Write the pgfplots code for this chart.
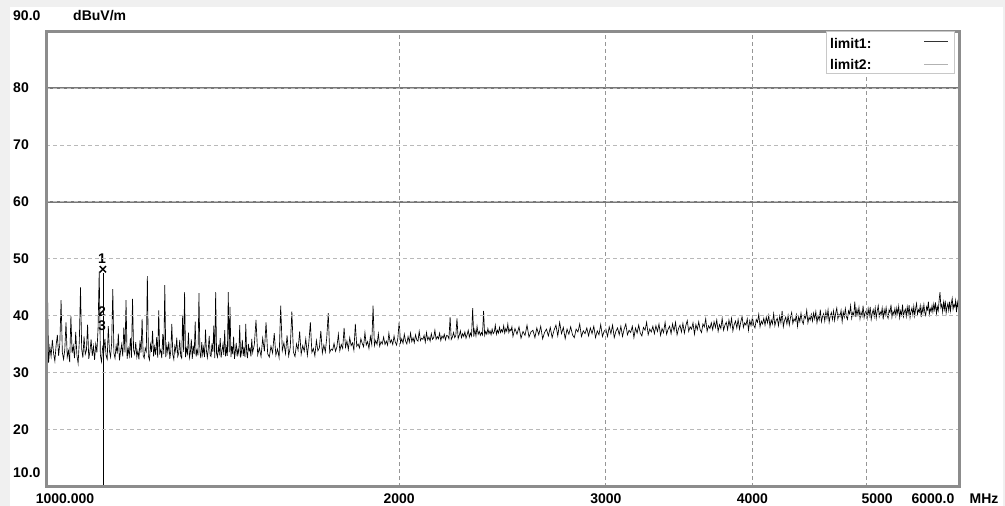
\documentclass[border=0pt]{standalone}
\usepackage{pgfplots}
\pgfplotsset{compat=1.18}
\usepackage{fontspec}
\setmainfont{Liberation Sans}

\definecolor{bggray}{RGB}{240,240,240}
\definecolor{framegray}{RGB}{140,140,140}
\definecolor{gridgray}{RGB}{150,150,150}
\definecolor{hgridgray}{RGB}{185,185,185}
\definecolor{limitgray}{RGB}{120,120,120}
\definecolor{legendgray}{RGB}{200,200,200}

\begin{document}
\begin{tikzpicture}[x=1pt,y=1pt,font=\bfseries\fontsize{14}{16}\selectfont]
% panel background
\fill[bggray] (0,0) rectangle (1005,506);
\fill[white] (10,0) rectangle (1003,499);

\begin{axis}[
  at={(46pt,19pt)}, anchor=south west,
  scale only axis, width=913pt, height=456pt,
  xmode=log, log basis x=10,
  xmin=1000, xmax=6000, ymin=10, ymax=90,
  axis on top,
  axis line style={draw=framegray, line width=3pt},
  major tick length=0pt,
  xtick={2000,3000,4000,5000},
  xticklabels={2000,3000,4000,\hspace*{22pt}5000},
  ytick={20,30,40,50,60,70,80},
  yticklabels={20,30,40,50,60,70,80},
  xticklabel style={anchor=center, yshift=-12pt, inner sep=0pt},
  yticklabel style={anchor=west, xshift=-33pt, inner sep=0pt},
  xmajorgrids, ymajorgrids,
  major x grid style={gridgray, line width=1pt, dash pattern=on 4pt off 3pt},
  major y grid style={hgridgray, line width=1pt, dash pattern=on 4pt off 3pt},
  clip=true,
]
% limit lines
\addplot[limitgray, line width=1.4pt] coordinates {(1000,80) (6000,80)};
\addplot[limitgray, line width=1.4pt] coordinates {(1000,60) (6000,60)};

% measured trace: 2.5 MHz steps to 1500, 5 MHz to 2500, 10 MHz above
\addplot[black, line width=0.65pt] coordinates {
(1000,33.5)(1002.5,46.5)(1005,31.8)(1007.5,34.6)(1010,32.9)(1012.5,35.8)(1015,33.4)(1017.5,32.1)(1020,34.9)(1022.5,36.7)
(1025,33.0)(1027.5,35.2)(1030,42.8)(1032.5,33.6)(1035,32.4)(1037.5,34.1)(1040,38.9)(1042.5,32.8)(1045,33.9)(1047.5,31.9)
(1050,40.0)(1052.5,33.5)(1055,34.8)(1057.5,32.6)(1060,37.2)(1062.5,33.1)(1065,31.7)(1067.5,35.6)(1070,45.0)(1072.5,34.2)
(1075,32.7)(1077.5,36.4)(1080,33.3)(1082.5,34.0)(1085,38.5)(1087.5,32.5)(1090,33.8)(1092.5,35.9)(1095,33.0)(1097.5,34.7)
(1100,32.3)(1102.5,35.1)(1105,33.6)(1107.5,37.8)(1110,47.8)(1112.5,33.2)(1115,32.0)(1117.5,34.5)(1120,33.7)(1122.5,36.0)
(1125,33.1)(1127.5,32.4)(1130,38.2)(1132.5,33.9)(1135,32.8)(1137.5,35.3)(1140,44.7)(1142.5,33.5)(1145,32.6)(1147.5,34.8)
(1150,33.4)(1152.5,36.9)(1155,32.2)(1157.5,33.8)(1160,35.0)(1162.5,32.9)(1165,38.0)(1167.5,33.6)(1170,42.8)(1172.5,32.5)
(1175,34.3)(1177.5,33.0)(1180,36.1)(1182.5,32.7)(1185,43.0)(1187.5,34.0)(1190,33.3)(1192.5,35.4)(1195,32.8)(1197.5,33.9)
(1200,32.4)(1202.5,35.7)(1205,33.6)(1207.5,39.5)(1210,33.1)(1212.5,32.6)(1215,34.4)(1217.5,33.8)(1220,47.0)(1222.5,33.0)
(1225,32.3)(1227.5,35.0)(1230,33.7)(1232.5,37.4)(1235,32.9)(1237.5,34.6)(1240,33.2)(1242.5,36.3)(1245,32.7)(1247.5,41.0)
(1250,33.5)(1252.5,34.1)(1255,32.6)(1257.5,36.8)(1260,33.3)(1262.5,45.4)(1265,32.8)(1267.5,34.9)(1270,33.6)(1272.5,35.5)
(1275,32.5)(1277.5,33.9)(1280,38.6)(1282.5,33.2)(1285,32.4)(1287.5,34.7)(1290,33.8)(1292.5,36.2)(1295,32.9)(1297.5,33.5)
(1300,35.8)(1302.5,33.0)(1305,32.6)(1307.5,40.2)(1310,33.7)(1312.5,44.2)(1315,32.8)(1317.5,34.3)(1320,33.4)(1322.5,37.1)
(1325,32.7)(1327.5,33.6)(1330,35.9)(1332.5,32.5)(1335,34.8)(1337.5,33.3)(1340,39.0)(1342.5,32.9)(1345,34.0)(1347.5,33.1)
(1350,44.0)(1352.5,33.8)(1355,32.6)(1357.5,35.4)(1360,33.2)(1362.5,34.5)(1365,32.8)(1367.5,37.6)(1370,33.9)(1372.5,32.7)
(1375,34.2)(1377.5,36.5)(1380,33.1)(1382.5,32.9)(1385,35.2)(1387.5,33.7)(1390,38.3)(1392.5,32.6)(1395,44.2)(1397.5,33.4)
(1400,32.8)(1402.5,34.6)(1405,33.5)(1407.5,36.1)(1410,32.7)(1412.5,33.9)(1415,35.0)(1417.5,33.2)(1420,37.5)(1422.5,32.9)
(1425,34.4)(1427.5,33.0)(1430,44.2)(1432.5,33.6)(1435,41.6)(1437.5,32.8)(1440,34.7)(1442.5,33.3)(1445,36.4)(1447.5,32.5)
(1450,33.8)(1452.5,35.3)(1455,32.9)(1457.5,34.1)(1460,33.4)(1462.5,38.4)(1465,32.7)(1467.5,33.6)(1470,35.8)(1472.5,33.0)
(1475,34.5)(1477.5,32.8)(1480,38.6)(1482.5,33.7)(1485,32.6)(1487.5,35.1)(1490,33.9)(1492.5,34.3)(1495,32.9)(1497.5,36.0)
(1500,33.6)(1505,35.0)(1510,39.3)(1515,33.2)(1520,34.4)(1525,32.9)(1530,36.1)(1535,33.8)(1540,38.9)(1545,33.4)
(1550,32.8)(1555,34.7)(1560,33.5)(1565,37.0)(1570,33.1)(1575,34.2)(1580,32.7)(1585,41.8)(1590,33.9)(1595,35.3)
(1600,33.4)(1605,36.6)(1610,33.0)(1615,34.5)(1620,40.8)(1625,33.7)(1630,32.9)(1635,35.1)(1640,34.0)(1645,37.3)
(1650,33.3)(1655,34.8)(1660,33.8)(1665,36.0)(1670,33.1)(1675,35.4)(1680,38.9)(1685,33.6)(1690,34.3)(1695,33.0)
(1700,35.7)(1705,33.9)(1710,34.4)(1715,37.4)(1720,33.5)(1725,34.9)(1730,33.7)(1735,36.3)(1740,40.5)(1745,33.6)
(1750,34.2)(1755,34.0)(1760,35.2)(1765,33.8)(1770,34.6)(1775,36.8)(1780,33.9)(1785,35.0)(1790,34.3)(1795,37.9)
(1800,34.5)(1805,35.6)(1810,34.1)(1815,36.2)(1820,34.8)(1825,35.3)(1830,34.0)(1835,38.6)(1840,34.7)(1845,35.1)
(1850,34.4)(1855,36.0)(1860,35.2)(1865,34.6)(1870,37.1)(1875,34.9)(1880,35.5)(1885,34.3)(1890,36.4)(1895,35.0)
(1900,41.8)(1905,34.8)(1910,35.7)(1915,35.0)(1920,36.9)(1925,34.7)(1930,35.5)(1935,35.1)(1940,36.3)(1945,35.0)
(1950,35.6)(1955,34.9)(1960,37.0)(1965,35.3)(1970,35.8)(1975,35.0)(1980,36.5)(1985,35.4)(1990,34.9)(1995,36.1)
(2000,39.0)(2005,35.3)(2010,36.0)(2015,35.2)(2020,36.8)(2025,35.6)(2030,35.1)(2035,36.4)(2040,35.4)(2045,37.0)
(2050,35.5)(2055,36.2)(2060,35.3)(2065,36.7)(2070,35.8)(2075,35.6)(2080,37.3)(2085,35.7)(2090,36.1)(2095,35.9)
(2100,36.6)(2105,35.4)(2110,37.1)(2115,35.8)(2120,36.3)(2125,35.6)(2130,36.9)(2135,35.9)(2140,36.2)(2145,37.5)
(2150,35.9)(2155,36.4)(2160,36.0)(2165,37.0)(2170,35.7)(2175,36.5)(2180,36.1)(2185,36.8)(2190,35.8)(2195,36.6)
(2200,36.5)(2205,36.0)(2210,39.8)(2215,35.9)(2220,36.3)(2225,37.1)(2230,36.2)(2235,36.6)(2240,39.6)(2245,36.0)
(2250,36.6)(2255,37.4)(2260,36.2)(2265,36.9)(2270,36.4)(2275,37.2)(2280,36.1)(2285,36.7)(2290,37.5)(2295,36.3)
(2300,37.0)(2305,36.5)(2310,41.4)(2315,36.4)(2320,37.6)(2325,36.5)(2330,38.2)(2335,36.8)(2340,37.3)(2345,36.6)
(2350,37.1)(2355,36.7)(2360,40.9)(2365,36.6)(2370,37.3)(2375,36.8)(2380,37.8)(2385,36.9)(2390,37.4)(2395,36.7)
(2400,37.7)(2405,36.9)(2410,37.2)(2415,38.4)(2420,36.8)(2425,37.5)(2430,37.0)(2435,38.0)(2440,37.1)(2445,37.6)
(2450,37.2)(2455,38.3)(2460,37.0)(2465,37.8)(2470,37.3)(2475,38.6)(2480,37.1)(2485,37.7)(2490,37.4)(2495,38.1)
(2500,36.4)(2510,37.8)(2520,36.8)(2530,38.1)(2540,36.1)(2550,37.3)(2560,36.6)(2570,38.4)(2580,36.3)(2590,37.2)
(2600,37.5)(2610,36.2)(2620,37.9)(2630,36.7)(2640,38.2)(2650,36.0)(2660,37.1)(2670,37.7)(2680,36.5)(2690,38.0)
(2700,36.2)(2710,37.5)(2720,38.4)(2730,36.5)(2740,38.9)(2750,36.9)(2760,38.0)(2770,36.0)(2780,37.7)(2790,36.8)
(2800,38.1)(2810,36.7)(2820,36.2)(2830,37.7)(2840,37.2)(2850,38.6)(2860,36.4)(2870,37.4)(2880,36.9)(2890,37.9)
(2900,36.5)(2910,37.9)(2920,36.9)(2930,38.2)(2940,36.2)(2950,37.4)(2960,36.7)(2970,38.5)(2980,36.4)(2990,37.3)
(3000,37.7)(3010,36.4)(3020,38.1)(3030,36.9)(3040,38.4)(3050,36.2)(3060,37.3)(3070,37.9)(3080,36.7)(3090,38.2)
(3100,36.4)(3110,37.7)(3120,38.6)(3130,36.7)(3140,37.5)(3150,37.1)(3160,38.2)(3170,36.2)(3180,37.9)(3190,37.0)
(3200,38.4)(3210,37.0)(3220,36.5)(3230,38.0)(3240,37.5)(3250,38.9)(3260,36.7)(3270,37.7)(3280,37.2)(3290,38.2)
(3300,36.9)(3310,38.3)(3320,37.3)(3330,38.6)(3340,36.6)(3350,37.8)(3360,37.1)(3370,38.9)(3380,36.8)(3390,37.7)
(3400,38.2)(3410,36.9)(3420,38.6)(3430,37.4)(3440,38.9)(3450,36.7)(3460,37.8)(3470,38.4)(3480,37.2)(3490,38.7)
(3500,37.0)(3510,38.3)(3520,39.2)(3530,37.3)(3540,38.1)(3550,37.7)(3560,38.8)(3570,36.8)(3580,38.5)(3590,37.6)
(3600,39.0)(3610,37.6)(3620,37.1)(3630,38.6)(3640,38.1)(3650,39.5)(3660,37.3)(3670,38.3)(3680,37.8)(3690,38.8)
(3700,37.6)(3710,39.0)(3720,38.0)(3730,39.3)(3740,37.3)(3750,38.5)(3760,37.8)(3770,39.6)(3780,37.5)(3790,38.4)
(3800,38.9)(3810,37.6)(3820,39.3)(3830,38.1)(3840,39.6)(3850,37.4)(3860,38.5)(3870,39.1)(3880,37.9)(3890,39.4)
(3900,37.7)(3910,39.0)(3920,39.9)(3930,38.0)(3940,38.8)(3950,38.4)(3960,39.5)(3970,37.5)(3980,39.2)(3990,38.3)
(4000,39.8)(4010,38.4)(4020,37.9)(4030,39.4)(4040,38.9)(4050,40.3)(4060,38.1)(4070,39.1)(4080,38.6)(4090,39.6)
(4100,38.4)(4110,39.8)(4120,38.8)(4130,40.1)(4140,38.1)(4150,39.3)(4160,38.6)(4170,40.4)(4180,38.3)(4190,39.2)
(4200,39.6)(4210,38.3)(4220,40.0)(4230,38.8)(4240,40.9)(4250,38.1)(4260,39.2)(4270,39.8)(4280,38.6)(4290,40.1)
(4300,38.4)(4310,39.7)(4320,40.6)(4330,38.7)(4340,39.5)(4350,39.1)(4360,40.2)(4370,38.2)(4380,39.9)(4390,39.0)
(4400,40.5)(4410,39.1)(4420,38.6)(4430,40.1)(4440,39.6)(4450,41.0)(4460,38.8)(4470,39.8)(4480,39.3)(4490,40.3)
(4500,39.1)(4510,40.5)(4520,39.5)(4530,40.8)(4540,38.8)(4550,40.0)(4560,39.3)(4570,41.1)(4580,39.0)(4590,39.9)
(4600,40.4)(4610,39.1)(4620,40.8)(4630,39.6)(4640,41.1)(4650,38.9)(4660,40.0)(4670,40.6)(4680,39.4)(4690,40.9)
(4700,39.2)(4710,40.5)(4720,41.4)(4730,39.5)(4740,40.3)(4750,39.9)(4760,41.0)(4770,39.0)(4780,40.7)(4790,39.8)
(4800,41.3)(4810,39.9)(4820,39.4)(4830,40.9)(4840,40.4)(4850,41.8)(4860,39.6)(4870,40.6)(4880,40.1)(4890,42.5)
(4900,39.8)(4910,41.2)(4920,40.2)(4930,41.5)(4940,39.5)(4950,40.7)(4960,40.0)(4970,41.8)(4980,39.7)(4990,40.6)
(5000,40.9)(5010,39.6)(5020,41.3)(5030,40.1)(5040,41.6)(5050,39.4)(5060,40.5)(5070,41.1)(5080,39.9)(5090,41.4)
(5100,39.6)(5110,40.9)(5120,41.8)(5130,39.9)(5140,40.7)(5150,40.3)(5160,41.4)(5170,39.4)(5180,41.1)(5190,40.2)
(5200,41.5)(5210,40.1)(5220,39.6)(5230,41.1)(5240,40.6)(5250,42.0)(5260,39.8)(5270,40.8)(5280,40.3)(5290,41.3)
(5300,40.0)(5310,41.4)(5320,40.4)(5330,41.7)(5340,39.7)(5350,40.9)(5360,40.2)(5370,42.0)(5380,39.9)(5390,40.8)
(5400,41.2)(5410,39.9)(5420,41.6)(5430,40.4)(5440,41.9)(5450,39.7)(5460,40.8)(5470,41.4)(5480,40.2)(5490,41.7)
(5500,40.0)(5510,41.3)(5520,42.2)(5530,40.3)(5540,41.1)(5550,40.7)(5560,41.8)(5570,39.8)(5580,41.5)(5590,40.6)
(5600,42.0)(5610,40.6)(5620,40.1)(5630,41.6)(5640,41.1)(5650,42.5)(5660,40.3)(5670,41.3)(5680,40.8)(5690,41.8)
(5700,40.7)(5710,42.1)(5720,41.1)(5730,42.4)(5740,40.4)(5750,41.6)(5760,40.9)(5770,42.7)(5780,44.2)(5790,41.5)
(5800,42.0)(5810,40.7)(5820,42.4)(5830,41.2)(5840,42.7)(5850,40.5)(5860,41.6)(5870,42.2)(5880,41.0)(5890,42.5)
(5900,40.9)(5910,42.2)(5920,43.1)(5930,41.2)(5940,42.0)(5950,41.6)(5960,42.7)(5970,40.7)(5980,42.4)(5990,41.5)
(6000,42.0)
};

% marker 1 with its vertical line, markers 2 and 3
\addplot[black, line width=0.9pt] coordinates {(1120,10) (1120,47.6)};
\addplot[black, only marks, mark=x, mark size=4.5pt, mark options={line width=1.4pt}] coordinates {(1118,48.2)};
\node[inner sep=0pt] at (axis cs:1116,50.0) {1};
\node[inner sep=0pt] at (axis cs:1116,40.7) {2};
\node[inner sep=0pt] at (axis cs:1116,38.3) {3};
\end{axis}

% axis end labels and units
\node[anchor=west, inner sep=0pt] at (13,490) {90.0};
\node[anchor=west, inner sep=0pt] at (73,490) {dBuV/m};
\node[anchor=west, inner sep=0pt] at (13,33) {10.0};
\node[inner sep=0pt] at (65,7) {1000.000};
\node[inner sep=0pt] at (933,7) {6000.0};
\node[inner sep=0pt] at (984,7) {MHz};

% legend
\draw[legendgray, line width=1pt, fill=white] (826,474) rectangle (954,432);
\node[anchor=west, inner sep=0pt] at (830,463) {limit1:};
\node[anchor=west, inner sep=0pt] at (830,442) {limit2:};
\draw[black!80, line width=1pt] (924,464) -- (948,464);
\draw[black!30, line width=1pt] (924,441) -- (948,441);
\end{tikzpicture}
\end{document}
